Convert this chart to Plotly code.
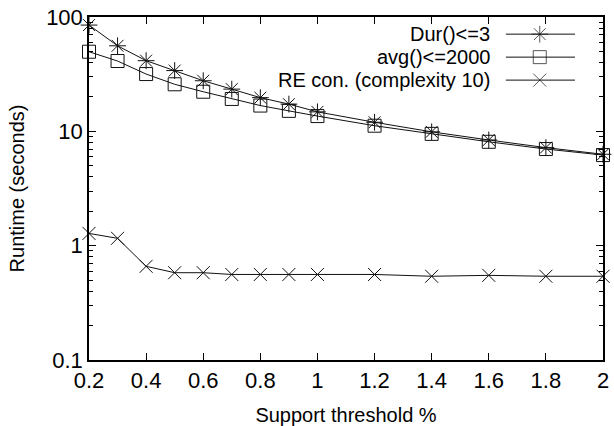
import plotly.graph_objects as go

# ---- data ----
support = [0.2, 0.3, 0.4, 0.5, 0.6, 0.7, 0.8, 0.9, 1.0, 1.2, 1.4, 1.6, 1.8, 2.0]
dur_le_3 = [85, 56, 41.5, 34, 27.7, 23.4, 19.7, 17.3, 14.8, 12.0, 9.9, 8.4, 7.2, 6.3]
avg_le_2000 = [49.7, 41.2, 31.7, 25.8, 22.2, 19.2, 16.8, 15.1, 13.6, 11.2, 9.5, 8.1, 7.0, 6.2]
re_con = [1.28, 1.16, 0.66, 0.58, 0.58, 0.56, 0.56, 0.56, 0.56, 0.56, 0.54, 0.55, 0.54, 0.54]

series_names = ["Dur()<=3", "avg()<=2000", "RE con. (complexity 10)"]
series_values = [dur_le_3, avg_le_2000, re_con]
series_symbols = ["asterisk-open", "square-open", "x-thin-open"]
series_sizes = [14, 13, 13]

x_ticks = [0.2, 0.4, 0.6, 0.8, 1.0, 1.2, 1.4, 1.6, 1.8, 2.0]

FONT = "Liberation Sans, Arial, Helvetica, sans-serif"
LINE = "#111111"

fig = go.Figure()

for name, vals, sym, sz in zip(series_names, series_values, series_symbols, series_sizes):
    fig.add_trace(go.Scatter(
        x=support, y=vals, mode="lines+markers", name=name,
        line=dict(color=LINE, width=1),
        marker=dict(symbol=sym, size=sz, color=LINE, line=dict(color=LINE, width=1)),
        showlegend=False, cliponaxis=False,
    ))

# ---- gnuplot-style key (text right, sample on the right) on an overlay axis ----
key_rows_y = [0.950, 0.883, 0.816]
key_x0, key_xm, key_x1, key_text_x = 0.811, 0.877, 0.9455, 0.785
for name, sym, sz, ky in zip(series_names, series_symbols, series_sizes, key_rows_y):
    fig.add_trace(go.Scatter(
        x=[key_x0, key_xm, key_x1], y=[ky, ky, ky], mode="lines+markers",
        xaxis="x2", yaxis="y2", showlegend=False, hoverinfo="skip",
        line=dict(color=LINE, width=1),
        marker=dict(symbol=sym, size=[0, sz, 0], color=LINE, line=dict(color=LINE, width=1)),
    ))
    fig.add_annotation(
        x=key_text_x, y=ky, xref="x2", yref="y2", text=name, showarrow=False,
        xanchor="right", yanchor="middle", font=dict(family=FONT, size=20, color="black"),
    )

fig.update_layout(
    width=614, height=426,
    margin=dict(l=89, r=11, t=17, b=66),
    paper_bgcolor="white", plot_bgcolor="white",
    font=dict(family=FONT, size=21, color="black"),
    showlegend=False,
    xaxis=dict(
        range=[0.2, 2.0], tickvals=x_ticks, ticks="inside", ticklen=7, tickwidth=1,
        tickcolor="black", showline=True, linecolor="black", linewidth=1.5,
        mirror="ticks", showgrid=False, zeroline=False, automargin=False,
        title=dict(text="Support threshold %", standoff=21, font=dict(size=20)),
        tickfont=dict(size=22),
    ),
    yaxis=dict(
        type="log", range=[-1, 2], dtick=1, ticks="inside", ticklen=7, tickwidth=1,
        tickcolor="black", showline=True, linecolor="black", linewidth=1.5,
        mirror="ticks", showgrid=False, zeroline=False, automargin=False,
        minor=dict(ticks="inside", ticklen=4, tickcolor="black", showgrid=False),
        title=dict(text="Runtime (seconds)", standoff=16, font=dict(size=20)),
        tickfont=dict(size=22),
    ),
    xaxis2=dict(overlaying="x", range=[0, 1], visible=False, fixedrange=True),
    yaxis2=dict(overlaying="y", range=[0, 1], visible=False, fixedrange=True),
)

fig.write_html("out.html")
